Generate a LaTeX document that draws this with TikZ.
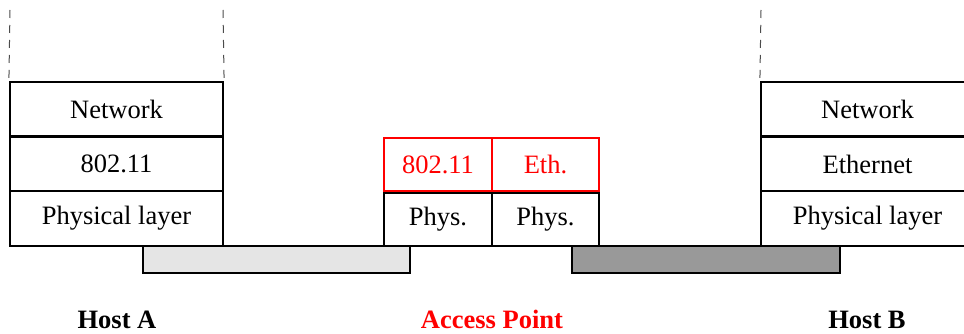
\documentclass[tikz,border=0pt]{standalone}
\usepackage{fontspec}
\setmainfont{Liberation Serif}
\begin{document}
\begin{tikzpicture}[x=1pt,y=-1pt,
  layer/.style={draw=black,line width=2.2pt,fill=white,inner sep=0pt,font=\fontsize{26.5}{30}\selectfont},
  redlayer/.style={draw=red,line width=2.8pt,fill=white,text=red,inner sep=0pt,font=\fontsize{26.5}{30}\selectfont},
  medium/.style={draw=black,line width=2.2pt},
  dashline/.style={draw=black!70,dashed,dash pattern=on 8pt off 7pt,line width=1pt},
  hostlabel/.style={font=\bfseries\fontsize{26.5}{30}\selectfont,anchor=base}]
\useasboundingbox (0,0) rectangle (964,334);
% bars (behind)
\draw[medium,fill=black!10] (143,246) rectangle (410,273);
\draw[medium,fill=black!40] (572,246) rectangle (840,273);
% Host A
\node[layer,minimum width=213pt,minimum height=54pt] (anet) at (116.5,109) {Network};
\node[layer,minimum width=213pt,minimum height=55pt] (amac) at (116.5,164) {802.11};
\node[layer,minimum width=213pt,minimum height=55pt] (aphy) at (116.5,218.5) {Physical layer};
\coordinate (adl) at (10,10);
\coordinate (adr) at (223,10);
\draw[dashline] (adl) -- (anet.north west);
\draw[dashline] (adr) -- (anet.north east);
% Access point
\node[layer,minimum width=108pt,minimum height=53pt] (pphy1) at (438,219.5) {Phys.};
\node[layer,minimum width=107pt,minimum height=53pt] (pphy2) at (545.5,219.5) {Phys.};
\node[redlayer,minimum width=108pt,minimum height=53pt] (pmac1) at (438,164.5) {802.11};
\node[redlayer,minimum width=107pt,minimum height=53pt] (pmac2) at (545.5,164.5) {Eth.};
% Host B
\node[layer,minimum width=213pt,minimum height=54pt] (bnet) at (867.5,109) {Network};
\node[layer,minimum width=213pt,minimum height=55pt] (bmac) at (867.5,164) {Ethernet};
\node[layer,minimum width=213pt,minimum height=55pt] (bphy) at (867.5,218.5) {Physical layer};
\coordinate (bdl) at (761,10);
\draw[dashline] (bdl) -- (bnet.north west);
% labels
\node[hostlabel] (la) at (117,328) {Host A};
\node[hostlabel,text=red] (lp) at (492,328) {Access Point};
\node[hostlabel] (lb) at (867,328) {Host B};
\end{tikzpicture}
\end{document}
